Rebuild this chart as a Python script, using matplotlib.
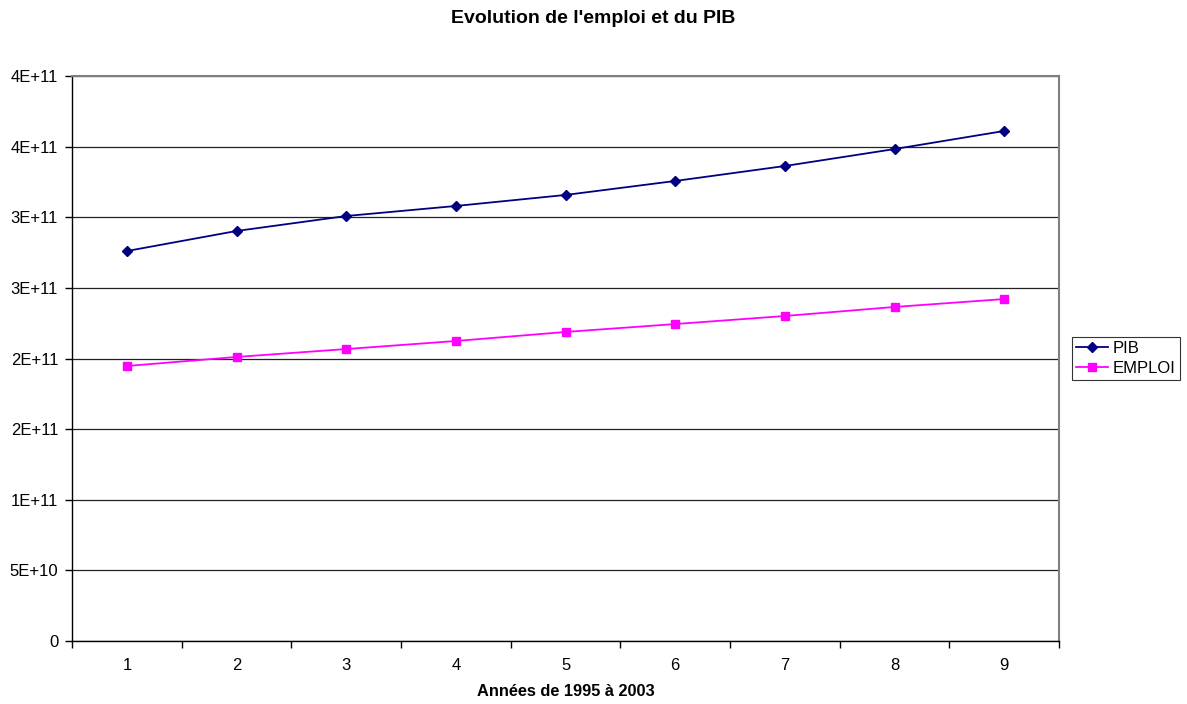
import numpy as np
import matplotlib.pyplot as plt

plt.rcParams['font.family'] = ['Liberation Sans', 'DejaVu Sans']

annees = [1, 2, 3, 4, 5, 6, 7, 8, 9]
pib = [2.761e11, 2.903e11, 3.009e11, 3.080e11, 3.158e11, 3.257e11, 3.363e11, 3.483e11, 3.611e11]
emploi = [1.947e11, 2.011e11, 2.067e11, 2.124e11, 2.188e11, 2.244e11, 2.301e11, 2.365e11, 2.421e11]
y_ticks = [0, 5e10, 1e11, 1.5e11, 2e11, 2.5e11, 3e11, 3.5e11, 4e11]
y_labels = ['0', '5E+10', '1E+11', '2E+11', '2E+11', '3E+11', '3E+11', '4E+11', '4E+11']

fig = plt.figure(figsize=(11.87, 7.04), dpi=100)
ax = fig.add_axes([0.0607, 0.0895, 0.8315, 0.8025])

ax.plot(annees, pib, color='#000080', marker='D', markersize=5, lw=1.3, label='PIB')
ax.plot(annees, emploi, color='#FF00FF', marker='s', markersize=6, lw=1.3, label='EMPLOI')

ax.set_xlim(0.5, 9.5)
ax.set_ylim(0, 4e11)
ax.set_yticks(y_ticks)
ax.set_yticklabels(y_labels)
ax.set_xticks(annees)
ax.set_xticks(np.arange(0.5, 9.6, 1), minor=True)
ax.tick_params(axis='x', which='major', length=0, pad=12, labelsize=12)
ax.tick_params(axis='x', which='minor', length=5, direction='out', width=1)
ax.tick_params(axis='y', length=5, direction='out', width=1, labelsize=12, pad=5)

ax.grid(axis='y', color='#222222', lw=0.9)
ax.set_axisbelow(True)
for s in ['top', 'right']:
    ax.spines[s].set_color('#808080')
    ax.spines[s].set_linewidth(1.5)
for s in ['left', 'bottom']:
    ax.spines[s].set_color('black')
    ax.spines[s].set_linewidth(1)

fig.suptitle("Evolution de l'emploi et du PIB", x=0.5, y=0.974, fontsize=14, fontweight='bold', va='center')
ax.set_xlabel('Années de 1995 à 2003', fontsize=11.8, fontweight='bold', labelpad=8)

leg = ax.legend(loc='center left', bbox_to_anchor=(1.013, 0.5), frameon=True, fancybox=False,
                edgecolor='black', fontsize=12, handlelength=1.9, borderpad=0.25,
                labelspacing=0.3, handletextpad=0.3, borderaxespad=0)
leg.get_frame().set_linewidth(0.8)

fig.savefig('out.png', dpi=100)
